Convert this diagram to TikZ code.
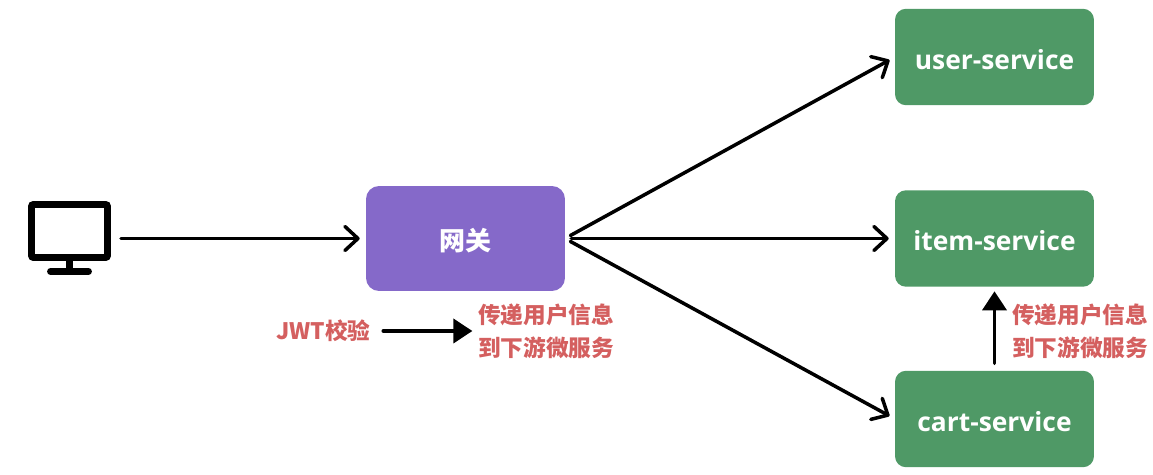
\documentclass[tikz,border=0pt]{standalone}
\usepackage{fontspec}
\usepackage{tikz}
\usetikzlibrary{arrows.meta}
\setmainfont{Open Sans}
\newfontfamily\cjk{Noto Sans CJK SC}
\definecolor{svcgreen}{HTML}{4F9966}
\definecolor{gwpurple}{HTML}{8569C9}
\definecolor{notered}{HTML}{D45F5F}

\begin{document}
\begin{tikzpicture}[x=0.02cm,y=-0.02cm,
    svc/.style={fill=svcgreen, text=white, rounded corners=0.22cm, minimum width=3.98cm, minimum height=1.93cm, outer sep=0pt, text height=14pt, text depth=0pt, font=\fontsize{15}{18}\selectfont\bfseries},
    gw/.style={fill=gwpurple, text=white, rounded corners=0.26cm, minimum width=3.98cm, minimum height=2.1cm, outer sep=0pt, text height=15.2pt, text depth=1.8pt, font=\cjk\fontsize{14.8}{16}\selectfont\bfseries},
    note/.style={text=notered, align=center, inner sep=0pt, font=\cjk\fontsize{12.9}{18.7}\selectfont\bfseries},
    flow/.style={-{Straight Barb[length=0.26cm,width=0.48cm,round]}, line width=2pt, line cap=round},
    pass/.style={-{Triangle[length=0.38cm,width=0.48cm]}, line width=2.1pt, line cap=round},
    pcpart/.style={draw=black, line width=3.9pt, rounded corners=0.04cm, minimum width=1.52cm, minimum height=1.06cm, outer sep=0pt}]
\useasboundingbox (0,0) rectangle (1153,475);

\node[pcpart] (pc) at (69.5,231) {};
\coordinate (pcbase) at (69.5,271.5);
\draw[line width=3.9pt] (pc.south) -- (pcbase);
\draw[line width=3.9pt, line cap=round] (50.5,271.5) -- (88.5,271.5);
\coordinate (pcout) at (121,238.5);

\node[gw] (gateway) at (465.5,238.5) {网关};
\node[svc] (user) at (994.5,57) {user-service};
\node[svc] (item) at (994.5,238.5) {item-service};
\node[svc] (cart) at (994.5,419) {cart-service};

\node[note] (jwt) at (323.5,331) {JWT校验};
\node[note] (pass1) at (546,331) {传递用户信息\\到下游微服务};
\node[note] (pass2) at (1080,331) {传递用户信息\\到下游微服务};

\draw[flow, shorten >=3.6pt] (pcout) -- (gateway.west);
\draw[flow, shorten <=3.5pt, shorten >=3.6pt] (gateway.east) -- (user.west);
\draw[flow, shorten <=3.5pt, shorten >=3.6pt] (gateway.east) -- (item.west);
\draw[flow, shorten <=3.5pt, shorten >=3.6pt] (gateway.east) -- (cart.west);

\draw[pass, shorten <=7pt, shorten >=3pt] (jwt.east) -- (pass1.west);
\draw[pass, shorten <=4.2pt, shorten >=2.6pt] (cart.north) -- (item.south);
\end{tikzpicture}
\end{document}
